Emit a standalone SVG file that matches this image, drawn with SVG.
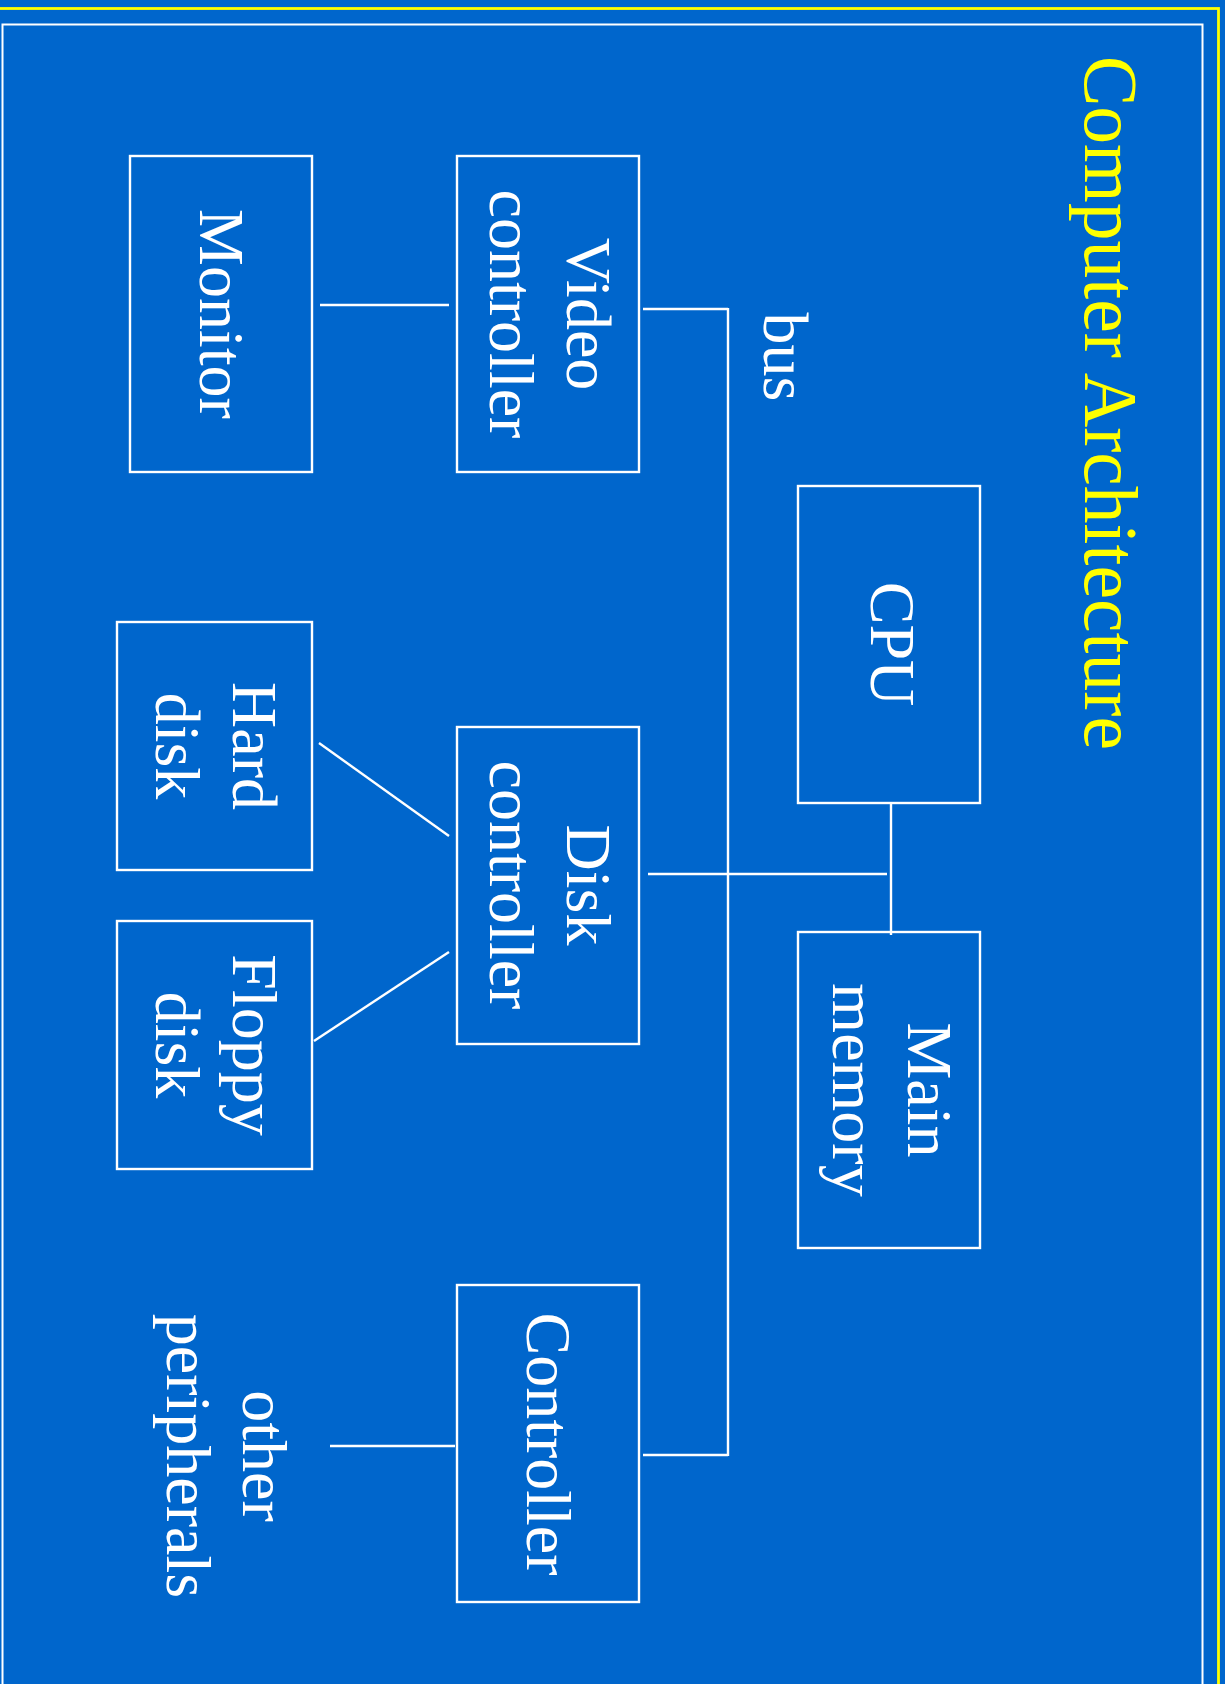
<svg xmlns="http://www.w3.org/2000/svg" width="1225" height="1684" viewBox="0 0 1225 1684">
<style>
.box{fill:none;stroke:#FFFFFF;stroke-width:2.4}
.ln{stroke:#FFFFFF;stroke-width:2.4;fill:none}
.lbl{font-family:"Liberation Serif","Times New Roman",serif;font-size:64px;fill:#FFFFFF;text-anchor:middle}
.title{font-family:"Liberation Serif","Times New Roman",serif;font-size:75.5px;fill:#FFFF00}
</style>
<rect x="0" y="0" width="1225" height="1684" fill="#0066CC"/>
<rect x="-20" y="8.5" width="1238.5" height="1700" fill="none" stroke="#FFFF00" stroke-width="2.8"/>
<rect x="2.5" y="24.5" width="1200" height="1700" fill="none" stroke="#FFFFFF" stroke-width="2"/>
<g id="title"><text class="title" transform="translate(1085,56) rotate(90)">Computer Architecture</text></g>
<g id="connectors">
<line class="ln" x1="728" y1="308" x2="728" y2="1456"/>
<polyline class="ln" points="643,309 728,309"/>
<polyline class="ln" points="643,1455 728,1455"/>
<line class="ln" x1="320" y1="305" x2="449" y2="305"/>
<line class="ln" x1="891" y1="803" x2="891" y2="935"/>
<line class="ln" x1="648" y1="874" x2="887" y2="874"/>
<line class="ln" x1="319" y1="743" x2="449" y2="836"/>
<line class="ln" x1="314" y1="1041" x2="449" y2="952"/>
<line class="ln" x1="330" y1="1446" x2="455" y2="1446"/>
</g>
<g id="bus-label"><text class="lbl" transform="translate(764,357) rotate(90)">bus</text></g>
<g id="video-controller">
<rect class="box" x="457" y="156" width="182" height="316"/>
<text class="lbl" transform="translate(567,314) rotate(90)">Video</text>
<text class="lbl" transform="translate(490,314) rotate(90)">controller</text>
</g>
<g id="monitor">
<rect class="box" x="130" y="156" width="182" height="316"/>
<text class="lbl" transform="translate(200,314) rotate(90)">Monitor</text>
</g>
<g id="cpu">
<rect class="box" x="798" y="486" width="182" height="317"/>
<text class="lbl" transform="translate(871,644) rotate(90)">CPU</text>
</g>
<g id="main-memory">
<rect class="box" x="798" y="932" width="182" height="316"/>
<text class="lbl" transform="translate(908,1090) rotate(90)">Main</text>
<text class="lbl" transform="translate(833,1090) rotate(90)">memory</text>
</g>
<g id="disk-controller">
<rect class="box" x="457" y="727" width="182" height="317"/>
<text class="lbl" transform="translate(567,885) rotate(90)">Disk</text>
<text class="lbl" transform="translate(490,885) rotate(90)">controller</text>
</g>
<g id="hard-disk">
<rect class="box" x="117" y="622" width="195" height="248"/>
<text class="lbl" transform="translate(233,746) rotate(90)">Hard</text>
<text class="lbl" transform="translate(156,746) rotate(90)">disk</text>
</g>
<g id="floppy-disk">
<rect class="box" x="117" y="921" width="195" height="248"/>
<text class="lbl" transform="translate(233,1045) rotate(90)">Floppy</text>
<text class="lbl" transform="translate(156,1045) rotate(90)">disk</text>
</g>
<g id="controller">
<rect class="box" x="457" y="1285" width="182" height="317"/>
<text class="lbl" transform="translate(527,1444) rotate(90)">Controller</text>
</g>
<g id="other-peripherals">
<text class="lbl" transform="translate(243,1456) rotate(90)">other</text>
<text class="lbl" transform="translate(167,1456) rotate(90)">peripherals</text>
</g>
</svg>
